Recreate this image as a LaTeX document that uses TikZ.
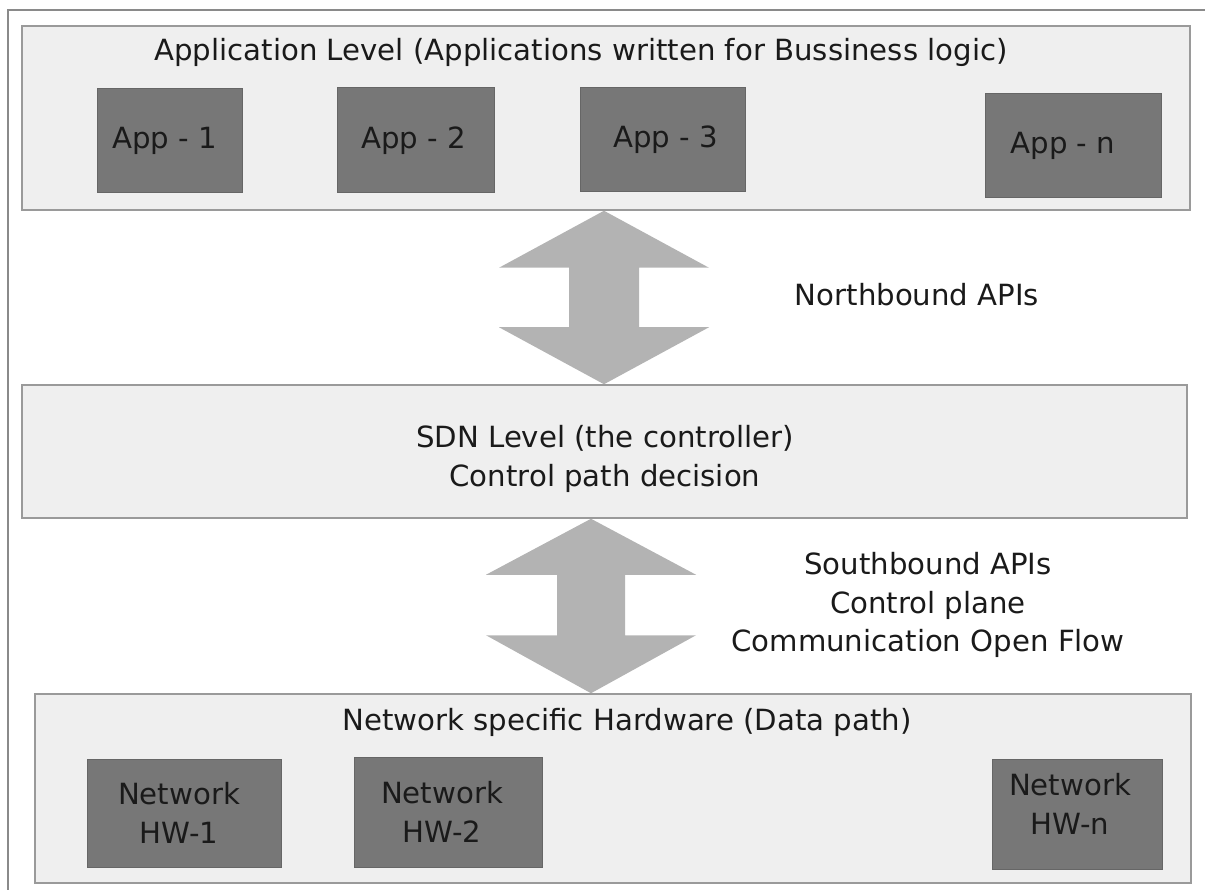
\documentclass[tikz,border=0pt]{standalone}
\usepackage{fontspec}
\setmainfont{DejaVu Sans}
\usetikzlibrary{calc}
\definecolor{layerfill}{HTML}{EFEFEF}
\definecolor{layerline}{HTML}{9A9A9A}
\definecolor{boxfill}{HTML}{777777}
\definecolor{boxline}{HTML}{666666}
\definecolor{arrowfill}{HTML}{B3B3B3}
\definecolor{framegray}{HTML}{8A8A8A}
\definecolor{txt}{HTML}{1A1A1A}
\tikzset{
  layer/.style={draw=layerline, line width=1.5pt, fill=layerfill, inner sep=0pt},
  appbox/.style={draw=boxline, line width=1pt, fill=boxfill, inner sep=0pt},
  lbl/.style={text=txt, align=center, inner sep=0pt},
  boxtext/.style 2 args={label={[lbl, xshift=#1]center:#2}},
  bigarrow/.style={fill=arrowfill, draw=none}
}
\begin{document}
\begin{tikzpicture}[x=1pt,y=-1pt,font=\fontsize{29.2}{38.5}\selectfont]
\useasboundingbox (0,0) rectangle (1205,890);
% outer frame (top and left edges only)
\draw[framegray, line width=2pt] (8,890) -- (8,10) -- (1205,10);

% application level
\node[layer, minimum width=1168pt, minimum height=184pt] (app) at (606,118) {};
\node[lbl] (apptitle) at (581,52) {Application Level (Applications written for Bussiness logic)};
\node[appbox, minimum width=145pt, minimum height=104pt, boxtext={-5pt}{App - 1}] (app1) at (169.5,141) {};
\node[appbox, minimum width=157pt, minimum height=105pt, boxtext={-2pt}{App - 2}] (app2) at (415.5,140.5) {};
\node[appbox, minimum width=165pt, minimum height=104pt, boxtext={3pt}{App - 3}] (app3) at (662.5,140) {};
\node[appbox, minimum width=176pt, minimum height=104pt, boxtext={-10pt}{App - n}] (appn) at (1073,146) {};

% SDN level
\node[layer, minimum width=1165pt, minimum height=133pt] (sdn) at (604.5,451.5) {};
\node[lbl] (sdntext) at (605,459) {SDN Level (the controller)\\Control path decision};

% network level
\node[layer, minimum width=1156pt, minimum height=189pt] (net) at (613,788.5) {};
\node[lbl] (nettitle) at (627,722) {Network specific Hardware (Data path)};
\node[appbox, minimum width=194pt, minimum height=108pt, boxtext={-5pt}{Network\\HW-1}] (hw1) at (184,813) {};
\node[appbox, minimum width=188pt, minimum height=110pt, boxtext={-6pt}{Network\\HW-2}] (hw2) at (448,812) {};
\node[appbox, minimum width=170pt, minimum height=110pt] (hwn) at (1077,814) {};
\node[lbl] (hwntext) at (1070,804) {Network\\HW-n};

% northbound double arrow
\coordinate (nbtop) at (app.south -| 604,0);
\coordinate (nbbot) at (sdn.north -| 604,0);
\fill[bigarrow] (nbtop) -- ($(nbtop)+(105,57)$) -- ($(nbtop)+(35,57)$)
  -- ($(nbbot)+(35,-57)$) -- ($(nbbot)+(105,-57)$) -- (nbbot)
  -- ($(nbbot)+(-105,-57)$) -- ($(nbbot)+(-35,-57)$)
  -- ($(nbtop)+(-35,57)$) -- ($(nbtop)+(-105,57)$) -- cycle;
\node[lbl] (nblabel) at (917,295) {Northbound APIs};

% southbound double arrow
\coordinate (sbtop) at (sdn.south -| 591,0);
\coordinate (sbbot) at (net.north -| 591,0);
\fill[bigarrow] (sbtop) -- ($(sbtop)+(105,56)$) -- ($(sbtop)+(34,56)$)
  -- ($(sbbot)+(34,-58)$) -- ($(sbbot)+(105,-58)$) -- (sbbot)
  -- ($(sbbot)+(-105,-58)$) -- ($(sbbot)+(-34,-58)$)
  -- ($(sbtop)+(-34,56)$) -- ($(sbtop)+(-105,56)$) -- cycle;
\node[lbl] (sblabel) at (928,605) {Southbound APIs\\Control plane\\Communication Open Flow};
\end{tikzpicture}
\end{document}
